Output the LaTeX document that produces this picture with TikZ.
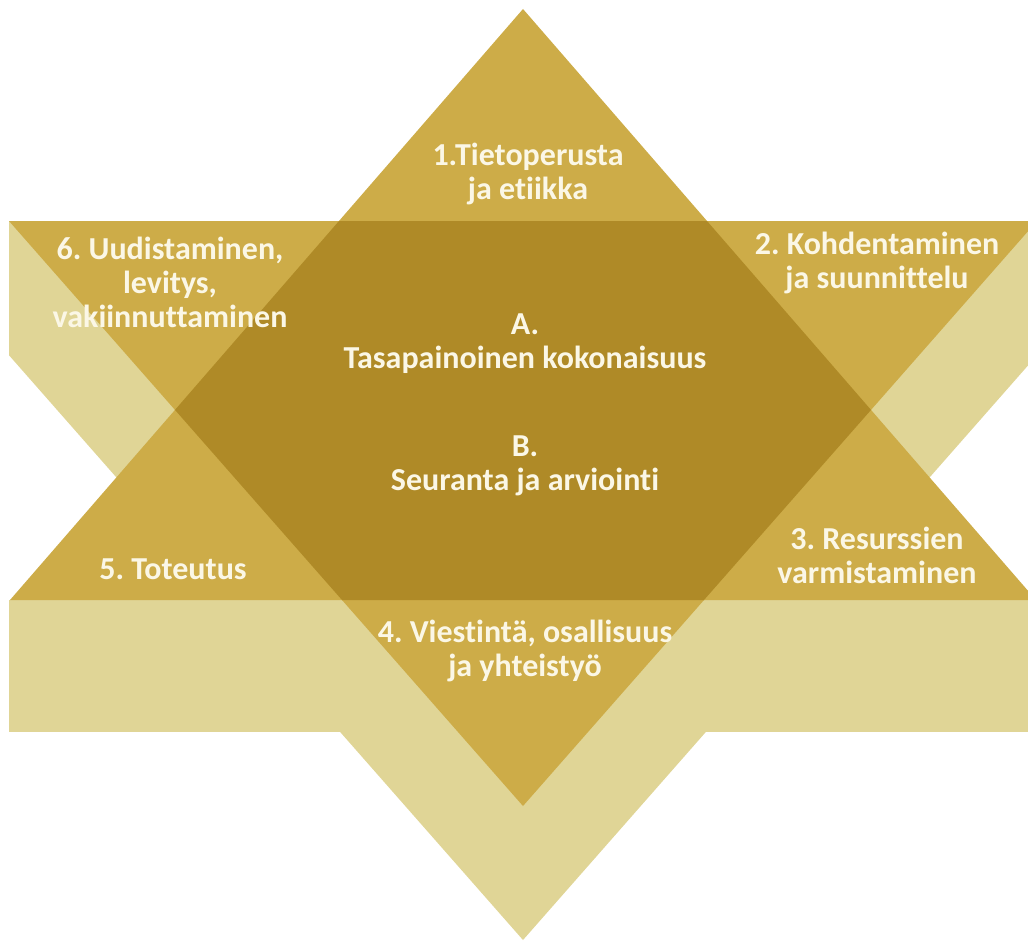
\documentclass[tikz,border=0pt]{standalone}
\usepackage{fontspec}
\setmainfont{Carlito}[Ligatures=CommonOff]
\frenchspacing
\definecolor{starlight}{HTML}{E0D596}
\definecolor{starmid}{HTML}{CDAC48}
\definecolor{stardark}{HTML}{AF8A27}
\definecolor{startext}{HTML}{FBF7E6}
\tikzset{
    bandlight/.style = {fill=starlight},
    facemid/.style = {fill=starmid},
    facedark/.style = {fill=stardark},
    lbl/.style = {text=startext, align=center, anchor=base, inner sep=0pt,
        font=\fontsize{32}{34}\selectfont\bfseries}
}
\begin{document}
\begin{tikzpicture}[x=1pt, y=-1pt]
    \useasboundingbox (0,0) rectangle (1028,942);
    % corners of the three triangles
    \coordinate (uptop) at (523,9);
    \coordinate (upleft) at (10,600);
    \coordinate (upright) at (1036,600);
    \coordinate (dnleft) at (9,221);
    \coordinate (dnright) at (1037,221);
    \coordinate (dnbot) at (523,806);
    \coordinate (shleft) at (-109,221);
    \coordinate (shright) at (1155,221);
    \coordinate (shbot) at (523,940);
    \begin{scope}
        \clip (9,0) rectangle (1028,942);
        \fill[bandlight] (shleft) -- (shright) -- (shbot) -- cycle;
        \fill[bandlight] (9,600) rectangle (1028,732);
        \fill[facemid] (dnleft) -- (dnright) -- (dnbot) -- cycle;
        \fill[facemid] (uptop) -- (upright) -- (upleft) -- cycle;
        \begin{scope}
            \clip (dnleft) -- (dnright) -- (dnbot) -- cycle;
            \fill[facedark] (uptop) -- (upright) -- (upleft) -- cycle;
        \end{scope}
    \end{scope}
    % labels (anchored at the baseline of the last line)
    \node[lbl] (tieto) at (528,199) {1.Tietoperusta\\ja etiikka};
    \node[lbl] (uudis) at (170,327) {6. Uudistaminen,\\levitys,\\vakiinnuttaminen};
    \node[lbl] (kohde) at (877,288) {2. Kohdentaminen\\ja suunnittelu};
    \node[lbl] (kokon) at (525,368) {A.\\Tasapainoinen kokonaisuus};
    \node[lbl] (seura) at (525,490) {B.\\Seuranta ja arviointi};
    \node[lbl] (resur) at (877,583) {3. Resurssien\\varmistaminen};
    \node[lbl] (toteu) at (173,579) {5. Toteutus};
    \node[lbl] (viest) at (525,676) {4. Viestintä, osallisuus\\ja yhteistyö};
\end{tikzpicture}
\end{document}
